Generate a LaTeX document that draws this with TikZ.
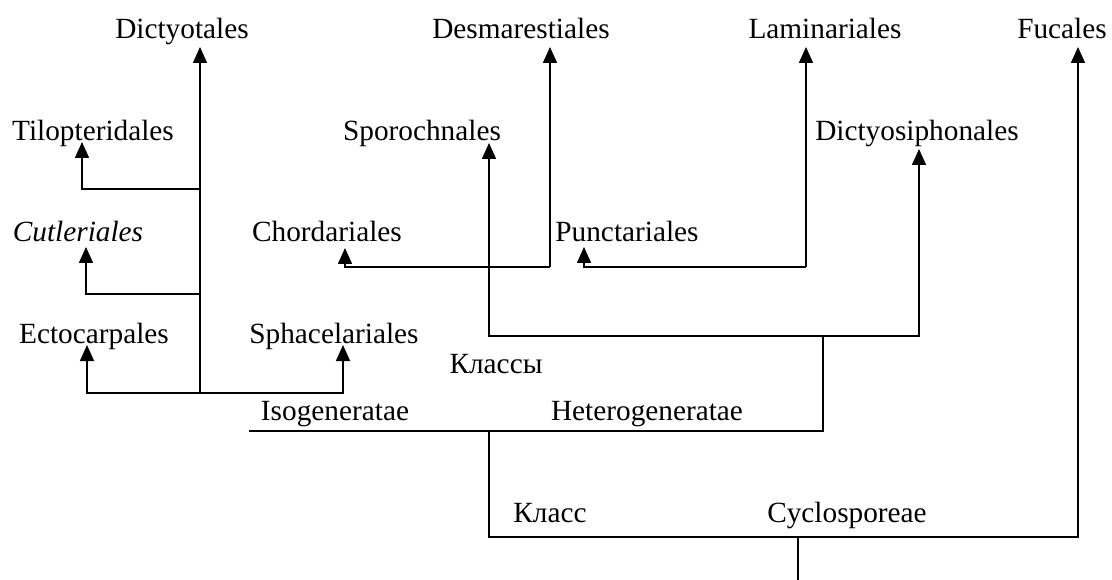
\documentclass[tikz,border=0pt]{standalone}
\usepackage{fontspec}
\setmainfont{Liberation Serif}
\usetikzlibrary{arrows.meta}

\tikzset{
	taxon/.style={anchor=base, inner sep=0pt, font=\fontsize{29.3}{35}\selectfont},
	branch/.style={line width=1.6pt},
	up/.style={branch, -{Triangle[width=14pt,length=16pt]}},
}

\begin{document}
\begin{tikzpicture}[x=1pt,y=-1pt]
	\useasboundingbox (0,0) rectangle (1112,580);
	% orders
		\node[taxon] (dict)  at (182,39)  {Dictyotales};
		\node[taxon] (desm)  at (521,39)  {Desmarestiales};
		\node[taxon] (lam)   at (825,39)  {Laminariales};
		\node[taxon] (fuc)   at (1062,39) {Fucales};
		\node[taxon] (tilo)  at (93,141)  {Tilopteridales};
		\node[taxon] (spor)  at (422,141) {Sporochnales};
		\node[taxon] (dsiph) at (917,141) {Dictyosiphonales};
		\node[taxon] (cut)   at (78,242)  {\itshape Cutleriales};
		\node[taxon] (chord) at (327,242) {Chordariales};
		\node[taxon] (punc)  at (627,242) {Punctariales};
		\node[taxon] (ecto)  at (94,343)  {Ectocarpales};
		\node[taxon] (spha)  at (334,343) {Sphacelariales};
	% classes
		\node[taxon] (classes) at (496,373) {Классы};
		\node[taxon] (iso)     at (335,420) {Isogeneratae};
		\node[taxon] (hete)    at (647,420) {Heterogeneratae};
		\node[taxon] (cls)     at (550,522) {Класс};
		\node[taxon] (cyc)     at (847,522) {Cyclosporeae};
	% arrow tips
		\coordinate (dictTip)  at (200,47);
		\coordinate (desmTip)  at (550,47);
		\coordinate (lamTip)   at (806,47);
		\coordinate (fucTip)   at (1078,47);
		\coordinate (tiloTip)  at (82,142);
		\coordinate (sporTip)  at (489,143);
		\coordinate (dsiphTip) at (919,149);
		\coordinate (cutTip)   at (86,247);
		\coordinate (chordTip) at (345,248);
		\coordinate (puncTip)  at (584,247);
		\coordinate (ectoTip)  at (87,345);
		\coordinate (sphaTip)  at (343,345);
	% junctions
		\coordinate (tiloJ) at (200,189);
		\coordinate (cutJ)  at (200,294);
		\coordinate (isoJ)  at (200,393);
		\coordinate (desmJ) at (550,267);
		\coordinate (lamJ)  at (806,267);
		\coordinate (heteJ) at (823,336);
		\coordinate (isoL)  at (249,431);
		\coordinate (isoR)  at (823,431);
		\coordinate (isoM)  at (489,431);
		\coordinate (cycL)  at (489,537);
		\coordinate (cycR)  at (1078,537);
		\coordinate (rootJ) at (798,537);
		\coordinate (root)  at (798,580);

		\draw[up] (isoJ) -- (dictTip);
		\draw[up] (tiloJ) -| (tiloTip);
		\draw[up] (cutJ) -| (cutTip);
		\draw[up] (isoJ) -| (ectoTip);
		\draw[up] (isoJ) -| (sphaTip);
		\draw[up] (desmJ) -- (desmTip);
		\draw[up] (desmJ) -| (chordTip);
		\draw[up] (lamJ) -- (lamTip);
		\draw[up] (lamJ) -| (puncTip);
		\draw[up] (heteJ) -| (sporTip);
		\draw[up] (heteJ) -| (dsiphTip);
		\draw[branch] (isoL) -- (isoR) -- (heteJ);
		\draw[up] (isoM) -- (cycL) -- (cycR) -- (fucTip);
		\draw[branch] (rootJ) -- (root);
	\end{tikzpicture}
\end{document}
